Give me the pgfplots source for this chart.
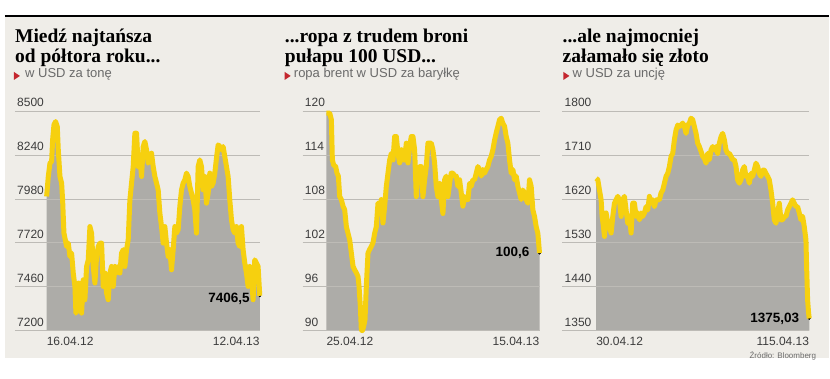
\documentclass[border=0pt]{standalone}
\usepackage{pgfplots}
\pgfplotsset{compat=1.18}
\usepackage{pgfplotstable}
\usepackage{fontspec}
\setmainfont{Liberation Sans}
\newfontfamily\titlefont{Liberation Serif}
\definecolor{bgc}{HTML}{EFEDE8}
\definecolor{areac}{HTML}{ADACA8}
\definecolor{yel}{HTML}{F6D00F}
\definecolor{gridc}{HTML}{BDBBB6}
\definecolor{tickc}{HTML}{3C3C3C}
\definecolor{subc}{HTML}{6A6A6A}
\definecolor{redc}{HTML}{C4262E}

\pgfplotstableread{
x y
20 7994
25 8112
30 8191
35 8201
38 8329
42 8417
47 8437
52 8407
55 8270
60 8112
65 8073
68 7974
72 7777
76 7738
80 7698
85 7718
90 7639
95 7659
100 7541
105 7462
108 7304
112 7324
116 7482
120 7383
125 7304
130 7501
135 7383
140 7580
145 7619
150 7816
155 7777
160 7580
165 7482
170 7639
175 7698
180 7718
185 7718
190 7462
195 7541
200 7422
205 7383
210 7541
215 7580
220 7462
225 7580
230 7541
235 7580
240 7541
245 7659
250 7679
255 7580
260 7679
265 7738
270 7974
275 8073
280 8171
285 8368
290 8368
295 8171
300 8230
305 8112
310 8289
315 8319
320 8270
325 8191
330 8210
335 8250
340 8171
345 8112
350 8073
355 8033
360 7895
365 7816
370 7718
375 7816
380 7718
385 7639
390 7679
395 7560
400 7679
405 7816
410 7777
415 7797
420 7935
425 8033
430 8073
435 8092
440 8132
445 8112
450 8053
455 8013
460 7974
465 7915
470 7777
475 8171
480 8210
485 8171
490 8033
495 8112
500 7954
505 8013
510 8132
515 8053
520 8073
525 8132
530 8220
535 8299
540 8289
545 8270
550 8289
555 8230
560 8171
565 8112
570 7974
575 7856
580 7797
585 7777
590 7816
595 7718
600 7698
605 7816
610 7679
615 7600
620 7541
625 7462
630 7580
635 7521
640 7383
645 7619
650 7600
655 7580
660 7406.5
}\dataA

\pgfplotstableread{
x y
20 119.7
25 119.7
30 119.7
35 118.8
38 113.3
42 112.6
48 112.4
52 111.5
56 111.1
60 108.3
65 107.9
70 107.0
75 106.5
80 104.2
85 103.3
90 102.4
95 100.6
100 98.8
105 98.3
110 97.9
115 97.4
118 96.1
122 93.3
125 90.1
128 90.0
132 90.6
136 91.5
140 96.1
145 100.6
150 101.1
155 101.5
160 102.0
165 103.3
170 104.2
175 107.4
180 107.0
185 107.9
190 104.7
195 107.0
200 109.7
205 111.5
210 113.3
215 114.2
220 113.3
225 116.5
230 116.5
235 114.2
240 112.9
245 114.7
250 113.3
255 113.3
260 115.6
265 112.9
270 115.1
275 116.5
280 116.5
285 114.7
290 108.3
295 112.0
300 112.4
305 112.4
310 108.3
315 110.6
320 112.4
325 115.6
330 115.6
335 115.6
340 114.7
345 112.9
350 109.7
355 108.3
360 110.1
365 107.9
370 106.0
375 110.6
380 111.1
385 108.3
390 110.1
395 111.5
400 111.5
405 111.1
410 111.1
415 109.7
420 110.6
425 108.8
430 107.0
435 108.3
440 107.9
445 107.9
450 110.1
455 109.7
460 110.6
465 110.6
470 111.5
475 112.4
480 112.0
485 111.1
490 112.0
495 111.5
500 112.0
505 112.4
510 113.3
515 113.8
520 114.7
525 116.0
530 117.0
535 117.9
540 118.8
545 119.0
550 118.3
555 117.9
560 116.5
565 115.6
570 113.3
575 111.5
580 112.0
585 110.6
590 111.1
595 109.7
600 108.8
605 107.9
610 109.2
615 108.8
620 107.9
625 107.4
630 110.6
635 109.7
640 106.5
645 105.6
650 104.2
655 103.3
660 100.6
}\dataB

\pgfplotstableread{
x y
20 1662
25 1659
30 1638
35 1618
38 1584
42 1563
45 1543
50 1591
55 1570
60 1563
65 1550
70 1584
75 1611
80 1618
85 1625
90 1618
95 1584
100 1618
105 1625
110 1597
115 1570
120 1584
125 1550
130 1611
135 1611
140 1584
145 1591
150 1577
155 1591
160 1584
165 1591
170 1604
175 1597
180 1625
185 1611
190 1618
195 1604
200 1618
205 1618
210 1618
215 1632
220 1638
225 1652
230 1666
235 1672
240 1686
245 1707
250 1713
255 1741
260 1761
265 1771
270 1768
275 1771
280 1775
285 1768
290 1754
295 1771
300 1775
305 1785
310 1782
315 1768
320 1754
325 1734
330 1727
335 1717
340 1707
345 1703
350 1693
355 1713
360 1700
365 1720
370 1727
375 1720
380 1727
385 1713
390 1734
395 1747
400 1754
405 1741
410 1720
415 1713
420 1713
425 1707
430 1700
435 1700
440 1686
445 1659
450 1652
455 1659
460 1679
465 1686
470 1666
475 1666
480 1652
485 1672
490 1666
495 1679
500 1693
505 1686
510 1672
515 1666
520 1679
525 1679
530 1672
535 1666
540 1659
545 1638
550 1611
555 1577
560 1570
565 1591
570 1611
575 1577
580 1577
585 1584
590 1584
595 1597
600 1604
605 1611
610 1618
615 1611
620 1604
625 1604
630 1591
635 1577
640 1584
645 1563
650 1536
652 1482
655 1413
658 1386
660 1375.03
}\dataC

\pgfplotsset{
  panel/.style={
    scale only axis, height=220pt, anchor=south west,
    xmax=660, clip=false,
    set layers, axis on top,
    ymajorgrids, major grid style={color=gridc, line width=0.6pt},
    axis line style={draw=none}, major tick length=0pt,
    xtick=\empty,
    yticklabel style={anchor=south west, font=\fontsize{12}{12}\selectfont, color=tickc, inner sep=0pt, xshift=2pt, yshift=4pt},
    /pgf/number format/assume math mode=true,
    /pgf/number format/1000 sep={},
  },
  arealine/.style={color=yel, line width=5pt, line join=round, on layer=axis foreground},
}
\tikzset{
  endlab/.style={anchor=east, font=\bfseries\fontsize{13.5}{13.5}\selectfont, inner sep=0pt, xshift=-10pt},
  datelab/.style={font=\fontsize{12}{12}\selectfont, color=tickc, inner sep=0pt, yshift=-6pt},
  ttl/.style={anchor=base west, inner sep=0, font=\titlefont\bfseries\fontsize{19.5}{19.5}\selectfont},
  sub/.style={anchor=base west, inner sep=0, font=\fontsize{13}{13}\selectfont, color=subc},
}

\begin{document}
\begin{tikzpicture}[x=1pt, y=1pt]
  % page and panel background
  \fill[white] (0,0) rectangle (830,379);
  \fill[bgc] (5,21) rectangle (830,362);
  \draw[black, line width=1.5pt] (5,363) -- (830,363);

  % titles
  \node[ttl] at (15,336) {Miedź najtańsza};
  \node[ttl] at (15,316) {od półtora roku...};
  \fill[redc] (14,307) -- (14,299) -- (20,303) -- cycle;
  \node[sub] at (25,301) {w USD za tonę};

  \node[ttl] at (285,336) {...ropa z trudem broni};
  \node[ttl] at (285,316) {pułapu 100 USD...};
  \fill[redc] (285,307) -- (285,299) -- (291,303) -- cycle;
  \node[sub] at (294,301) {ropa brent w USD za baryłkę};

  \node[ttl] at (563,336) {...ale najmocniej};
  \node[ttl] at (563,316) {załamało się złoto};
  \fill[redc] (564,307) -- (564,299) -- (570,303) -- cycle;
  \node[sub] at (573,301) {w USD za uncję};

  \node[anchor=east, inner sep=0, font=\fontsize{8}{8}\selectfont, color=subc] at (817,23) {Źródło: Bloomberg};

  % panel 1
  \begin{axis}[panel, at={(15pt,48pt)}, width=245pt, xmin=-75, ymin=7200, ymax=8500, ytick={7200,7460,7720,7980,8240,8500}]
    \addplot[fill=areac, draw=none] table[x=x,y=y] {\dataA} -- (axis cs:660,7200) -- (axis cs:20,7200) -- cycle;
    \addplot[arealine] table[x=x,y=y] {\dataA};
    \addplot[only marks, mark=*, mark size=1.2pt, black, on layer=axis foreground] coordinates {(660,7406.5)};
    \node[endlab, on layer=axis foreground] at (axis cs:660,7390) {7406,5};
    \node[datelab, anchor=north west] at (axis cs:20,7200) {16.04.12};
    \node[datelab, anchor=north east] at (axis cs:660,7200) {12.04.13};
  \end{axis}

  % panel 2
  \begin{axis}[panel, at={(303pt,48pt)}, width=237pt, xmin=-51, ymin=90, ymax=120, ytick={90,96,102,108,114,120}]
    \addplot[fill=areac, draw=none] table[x=x,y=y] {\dataB} -- (axis cs:660,90) -- (axis cs:20,90) -- cycle;
    \addplot[arealine] table[x=x,y=y] {\dataB};
    \addplot[only marks, mark=*, mark size=1.2pt, black, on layer=axis foreground] coordinates {(660,100.6)};
    \node[endlab] at (axis cs:660,100.6) {100,6};
    \node[datelab, anchor=north west] at (axis cs:20,90) {25.04.12};
    \node[datelab, anchor=north east] at (axis cs:660,90) {15.04.13};
  \end{axis}

  % panel 3
  \begin{axis}[panel, at={(563pt,48pt)}, width=247pt, xmin=-81, ymin=1350, ymax=1800, ytick={1350,1440,1530,1620,1710,1800}]
    \addplot[fill=areac, draw=none] table[x=x,y=y] {\dataC} -- (axis cs:660,1350) -- (axis cs:20,1350) -- cycle;
    \addplot[arealine] table[x=x,y=y] {\dataC};
    \addplot[only marks, mark=*, mark size=1.2pt, black, on layer=axis foreground] coordinates {(660,1375.03)};
    \node[endlab] at (axis cs:660,1375.03) {1375,03};
    \node[datelab, anchor=north west] at (axis cs:20,1350) {30.04.12};
    \node[datelab, anchor=north east] at (axis cs:660,1350) {115.04.13};
  \end{axis}
\end{tikzpicture}
\end{document}
